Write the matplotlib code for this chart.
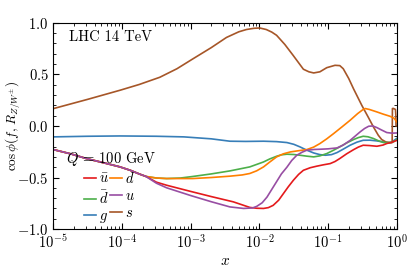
import numpy as np
import matplotlib; matplotlib.use("Agg")
import matplotlib.pyplot as plt
from matplotlib.ticker import MultipleLocator, FixedLocator, FixedFormatter, LogLocator
plt.rcParams.update({"font.family": "serif", "font.serif": ["cmr10"], "mathtext.fontset": "cm",
                     "axes.formatter.use_mathtext": True, "font.size": 10.5})

# data: log10(x) positions and cos(phi) values
lx_s = [-5, -4.5, -4.03, -3.75, -3.45, -3.2, -2.97, -2.7, -2.48, -2.3, -2.19, -2.08, -1.995, -1.9, -1.82,
        -1.75, -1.63, -1.51, -1.36, -1.28, -1.21, -1.12, -1.02, -0.9, -0.83, -0.78, -0.7, -0.63, -0.51,
        -0.42, -0.34, -0.27, -0.22, -0.16, -0.10, -0.068, -0.064, -0.05, -0.02, -0.014, -0.012, 0]
y_s = [0.168, 0.258, 0.346, 0.402, 0.472, 0.555, 0.65, 0.76, 0.858, 0.913, 0.935, 0.947, 0.95, 0.935, 0.91,
       0.879, 0.79, 0.685, 0.55, 0.525, 0.514, 0.525, 0.565, 0.588, 0.585, 0.555, 0.46, 0.36, 0.2,
       0.09, -0.01, -0.09, -0.132, -0.155, -0.161, -0.162, 0.169, 0.17, 0.16, 0.1, 0.0, 0.0]
lx_g = [-5, -4.5, -4.03, -3.5, -3.1, -2.7, -2.43, -2.2, -1.94, -1.75, -1.6, -1.5, -1.41, -1.31, -1.21, -1.12,
        -1.04, -0.95, -0.87, -0.78, -0.68, -0.58, -0.49, -0.39, -0.29, -0.2, -0.146, -0.08, 0]
y_g = [-0.106, -0.10, -0.097, -0.10, -0.106, -0.125, -0.148, -0.15, -0.148, -0.152, -0.161, -0.178, -0.203,
       -0.235, -0.262, -0.278, -0.284, -0.278, -0.258, -0.225, -0.187, -0.157, -0.139, -0.138, -0.145,
       -0.155, -0.164, -0.16, -0.12]
lx_common = [-5, -4.75, -4.52, -4.25, -4.03, -3.88, -3.74, -3.65]
y_common = [-0.229, -0.27, -0.316, -0.36, -0.397, -0.43, -0.468, -0.49]
lx_db = [-3.5, -3.35, -3.15, -2.97, -2.7, -2.43, -2.14, -1.94, -1.85, -1.75, -1.68, -1.6, -1.5, -1.41, -1.31,
         -1.21, -1.12, -1.02, -0.92, -0.83, -0.73, -0.63, -0.56, -0.49, -0.42, -0.34, -0.27, -0.195, -0.12, -0.05, 0]
y_db = [-0.505, -0.51, -0.505, -0.49, -0.465, -0.436, -0.397, -0.349, -0.32, -0.294, -0.28, -0.274, -0.277,
        -0.284, -0.293, -0.30, -0.29, -0.268, -0.235, -0.203, -0.165, -0.132, -0.113, -0.10, -0.105,
        -0.122, -0.143, -0.161, -0.162, -0.155, -0.13]
lx_d = [-3.5, -3.35, -3.15, -2.97, -2.7, -2.43, -2.25, -2.14, -2.04, -1.94, -1.85, -1.75, -1.65, -1.55,
        -1.43, -1.31, -1.21, -1.12, -1.02, -0.92, -0.8, -0.68, -0.57, -0.5, -0.46, -0.4, -0.29, -0.2, -0.1, -0.04, 0]
y_d = [-0.505, -0.51, -0.51, -0.51, -0.50, -0.487, -0.475, -0.461, -0.435, -0.397, -0.35, -0.30, -0.27,
       -0.252, -0.24, -0.229, -0.205, -0.171, -0.125, -0.074, -0.01, 0.055, 0.12, 0.155, 0.169, 0.16,
       0.136, 0.115, 0.094, 0.075, 0.039]
lx_ub = [-3.5, -3.35, -3.0, -2.7, -2.38, -2.14, -2.04, -1.94, -1.87, -1.80, -1.72, -1.65, -1.58, -1.505,
         -1.43, -1.36, -1.26, -1.165, -1.07, -0.97, -0.9, -0.83, -0.73, -0.63, -0.56, -0.49, -0.4, -0.29,
         -0.2, -0.146, -0.08, 0]
y_ub = [-0.545, -0.575, -0.635, -0.685, -0.736, -0.79, -0.798, -0.80, -0.792, -0.77, -0.72, -0.655, -0.59,
        -0.526, -0.47, -0.43, -0.405, -0.39, -0.377, -0.365, -0.345, -0.316, -0.27, -0.23, -0.205, -0.187,
        -0.19, -0.197, -0.185, -0.17, -0.16, -0.14]
lx_u = [-3.5, -3.35, -3.0, -2.7, -2.43, -2.23, -2.1, -2.04, -1.96, -1.89, -1.82, -1.75, -1.68, -1.60,
        -1.53, -1.456, -1.38, -1.31, -1.2, -1.12, -1.0, -0.87, -0.78, -0.68, -0.6, -0.535, -0.47, -0.41,
        -0.35, -0.29, -0.22, -0.146, -0.07, 0]
y_u = [-0.555, -0.60, -0.675, -0.735, -0.785, -0.80, -0.795, -0.78, -0.745, -0.69, -0.615, -0.54, -0.465,
       -0.40, -0.335, -0.284, -0.255, -0.235, -0.228, -0.226, -0.222, -0.213, -0.185, -0.14, -0.095,
       -0.058, -0.025, -0.003, 0.0, -0.016, -0.04, -0.064, -0.07, -0.068]

C = {"ub": "#e41a1c", "d": "#ff7f00", "db": "#4daf4a", "u": "#984ea3", "g": "#377eb8", "s": "#a65628"}

fig = plt.figure(figsize=(4.07, 2.75), dpi=100)
ax = fig.add_axes([0.131, 0.167, 0.844, 0.750])
lw = 1.2
def curve(lx, y, c, lab, common=True):
    xs = list(lx_common) + list(lx) if common else list(lx)
    ys = list(y_common) + list(y) if common else list(y)
    return ax.plot(10.0 ** np.array(xs), ys, color=c, lw=lw, label=lab, solid_joinstyle="round")[0]
h_g = curve(lx_g, y_g, C["g"], "$g$", common=False)
h_s = curve(lx_s, y_s, C["s"], "$s$", common=False)
h_db = curve(lx_db, y_db, C["db"], r"$\bar{d}$")
h_d = curve(lx_d, y_d, C["d"], "$d$")
h_ub = curve(lx_ub, y_ub, C["ub"], r"$\bar{u}$")
h_u = curve(lx_u, y_u, C["u"], "$u$")

ax.set_xscale("log"); ax.set_xlim(1e-5, 1); ax.set_ylim(-1, 1)
ax.yaxis.set_major_locator(FixedLocator([-1, -0.5, 0, 0.5, 1]))
ax.yaxis.set_major_formatter(FixedFormatter([r"$-1.0$", r"$-0.5$", r"$0.0$", r"$0.5$", r"$1.0$"]))
ax.yaxis.set_minor_locator(MultipleLocator(0.1))
ax.xaxis.set_minor_locator(LogLocator(base=10, subs=np.arange(2, 10), numticks=20))
ax.tick_params(which="both", direction="in", top=True, right=True, labelsize=10.5)
ax.tick_params(which="major", length=4.5); ax.tick_params(which="minor", length=2.2)
ax.set_xlabel("$x$", fontsize=11, labelpad=2)
ax.set_ylabel(r"$\cos\phi(f,\,R_{Z/W^{\pm}})$", fontsize=9.5)
ax.yaxis.set_label_coords(-0.088, 0.5)
ax.text(0.045, 0.965, "LHC 14 TeV", transform=ax.transAxes, ha="left", va="top", fontsize=10.5)
ax.text(0.038, 0.338, "$Q$ = 100 GeV", transform=ax.transAxes, ha="left", va="center", fontsize=10.5)
ax.legend([h_ub, h_db, h_g, h_d, h_u, h_s], [r"$\bar{u}$", r"$\bar{d}$", "$g$", "$d$", "$u$", "$s$"],
          ncol=2, loc="upper left", bbox_to_anchor=(0.068, 0.315), frameon=False, handlelength=0.85,
          handletextpad=0.2, columnspacing=0.05, labelspacing=0.2, borderpad=0, fontsize=10.5)
fig.savefig("out.png", dpi=100)
